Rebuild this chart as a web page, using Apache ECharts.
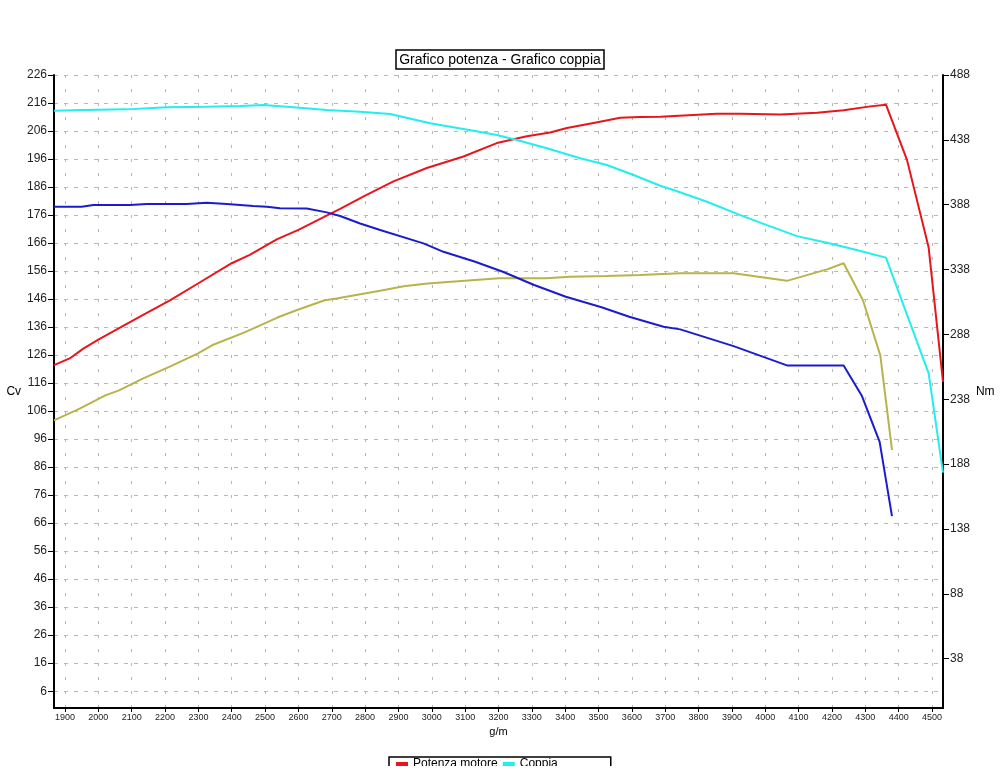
<!DOCTYPE html>
<html>
<head>
<meta charset="utf-8">
<script src="https://cdn.jsdelivr.net/npm/echarts@6/dist/echarts.min.js"></script>
<style>html,body{margin:0;padding:0;background:#fff}#c{width:1000px;height:775px}</style>
</head>
<body>
<div id="c"></div>
<script>
// ---- data ----
const xTicks = [1900,2000,2100,2200,2300,2400,2500,2600,2700,2800,2900,3000,3100,3200,3300,3400,3500,3600,3700,3800,3900,4000,4100,4200,4300,4400,4500];
const cvTicks = [6,16,26,36,46,56,66,76,86,96,106,116,126,136,146,156,166,176,186,196,206,216,226];
const nmTicks = [38,88,138,188,238,288,338,388,438,488];

const potenzaRpm = [1867,1914,1955,2000,2065,2133,2216,2305,2400,2454,2535,2600,2695,2725,2800,2885,2985,3095,3195,3285,3355,3405,3485,3565,3625,3685,3855,3925,4045,4155,4235,4315,4362,4425,4490,4533];
const potenzaCv = [122.4,124.8,128.3,131.5,135.8,140.3,145.6,152.0,158.8,161.8,167.3,170.7,176.4,178.2,182.9,188.0,192.8,196.9,201.7,204.1,205.5,207.1,208.9,210.7,211.0,211.1,212.2,212.2,211.9,212.5,213.4,214.8,215.4,195.7,164.4,116.4];

const coppiaRpm = [1867,1955,2085,2205,2325,2425,2495,2585,2685,2785,2875,2995,3125,3195,3255,3345,3445,3525,3605,3685,3725,3825,3925,4005,4095,4185,4265,4362,4490,4533];
const coppiaNm = [460.5,461.0,461.5,463.1,463.6,464.1,464.9,463.1,461.0,459.7,457.9,450.8,445.1,441.7,437.9,431.5,423.8,418.6,410.9,402.6,399.3,390.3,380.0,372.3,363.8,358.7,353.6,347.2,258.0,181.5];

const coppia2Rpm = [1867,1950,1985,2095,2145,2265,2325,2385,2465,2505,2545,2625,2685,2725,2785,2845,2975,3035,3130,3213,3307,3402,3509,3592,3695,3745,3905,4065,4235,4290,4343,4380];
const coppia2Nm = [386.5,386.5,387.8,387.8,388.5,388.5,389.5,388.5,387.0,386.5,385.2,385.0,382.1,379.3,373.5,368.5,358.2,351.7,344.0,336.3,326.1,317.0,308.9,301.6,293.9,291.9,279.0,264.1,264.1,240.5,205.2,147.9];

const potenza2Rpm = [1867,1944,2021,2062,2133,2216,2299,2341,2442,2537,2596,2679,2714,2845,2916,2987,3130,3201,3343,3414,3525,3625,3745,3905,4065,4185,4235,4293,4345,4380];
const potenza2Cv = [102.7,106.9,111.6,113.4,117.6,122.0,126.6,129.5,134.3,139.4,142.1,145.6,146.2,149.0,150.6,151.6,152.8,153.4,153.4,154.0,154.2,154.6,155.2,155.2,152.5,156.6,158.8,145.6,125.9,92.2];

const seriesNames = ['Potenza motore','Coppia','Potenza motore 2','Coppia 2'];

const zip = (a,b) => a.map((v,i)=>[v,b[i]]);
const FONT = 'Liberation Sans, Arial, sans-serif';

const chart = echarts.init(document.getElementById('c'), null, {renderer:'canvas'});
chart.setOption({
  animation:false,
  backgroundColor:'#fff',
  textStyle:{fontFamily:FONT},
  title:{
    text:'Grafico potenza - Grafico coppia',
    left:'center', top:50,
    padding:[3,3,2,3],
    borderColor:'#000', borderWidth:1.5,
    textStyle:{fontSize:14,fontWeight:'normal',color:'#000',fontFamily:FONT}
  },
  legend:{
    left:389, top:757, width:200,
    padding:[1,33,4,7],
    borderColor:'#000', borderWidth:1.5,
    itemWidth:12, itemHeight:4, itemGap:5,
    icon:'rect',
    textStyle:{fontSize:12,color:'#000',fontFamily:FONT},
    data:seriesNames
  },
  graphic:[{
    type:'rect', left:0, top:766, z:100, silent:true,
    shape:{width:1000,height:12},
    style:{fill:'#fff'}
  }],
  grid:{left:54,right:57,top:75,bottom:67,containLabel:false},
  xAxis:{
    type:'value', min:1867, max:4533,
    name:'g/m', nameLocation:'middle', nameGap:18,
    nameTextStyle:{fontSize:11,color:'#000',fontFamily:FONT},
    axisLine:{lineStyle:{color:'#000',width:2}},
    axisTick:{customValues:xTicks,length:4,lineStyle:{color:'#000'}},
    axisLabel:{customValues:xTicks,formatter:v=>String(v),fontSize:9,color:'#222',margin:5,fontFamily:FONT},
    splitLine:{show:true,lineStyle:{color:'#b8b8b8',type:[3,11],width:1}}
  },
  yAxis:[{
    type:'value', min:0, max:226, position:'left',
    name:'Cv', nameLocation:'middle', nameGap:30, nameRotate:0,
    nameTextStyle:{fontSize:12,color:'#000',fontFamily:FONT},
    axisLine:{show:true,lineStyle:{color:'#000',width:2}},
    axisTick:{show:true,customValues:cvTicks,length:6,lineStyle:{color:'#000'}},
    axisLabel:{customValues:cvTicks,formatter:v=>String(v),fontSize:12,color:'#222',margin:7,fontFamily:FONT},
    splitLine:{show:true,lineStyle:{color:'#b8b8b8',type:[4,6],width:1}}
  },{
    type:'value', min:0, max:488, position:'right',
    name:'Nm', nameLocation:'middle', nameGap:26, nameRotate:0,
    nameTextStyle:{fontSize:12,color:'#000',fontFamily:FONT},
    axisLine:{show:true,lineStyle:{color:'#000',width:2}},
    axisTick:{show:true,customValues:nmTicks,length:6,lineStyle:{color:'#000'}},
    axisLabel:{customValues:nmTicks,formatter:v=>String(v),fontSize:12,color:'#222',margin:7,fontFamily:FONT},
    splitLine:{show:false}
  }],
  series:[
    {name:seriesNames[0],type:'line',yAxisIndex:0,symbol:'none',data:zip(potenzaRpm,potenzaCv),lineStyle:{color:'#e8161c',width:2},itemStyle:{color:'#e8161c'}},
    {name:seriesNames[1],type:'line',yAxisIndex:1,symbol:'none',data:zip(coppiaRpm,coppiaNm),lineStyle:{color:'#22eeee',width:2},itemStyle:{color:'#22eeee'}},
    {name:seriesNames[2],type:'line',yAxisIndex:0,symbol:'none',data:zip(potenza2Rpm,potenza2Cv),lineStyle:{color:'#b9b34c',width:2},itemStyle:{color:'#b9b34c'}},
    {name:seriesNames[3],type:'line',yAxisIndex:1,symbol:'none',data:zip(coppia2Rpm,coppia2Nm),lineStyle:{color:'#1c1ccf',width:2},itemStyle:{color:'#1c1ccf'}}
  ]
});
</script>
</body>
</html>
